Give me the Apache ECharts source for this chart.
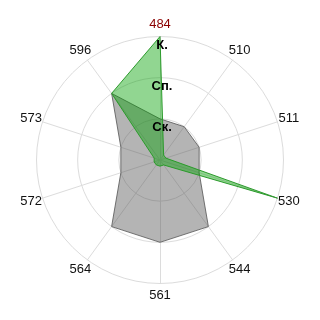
<!DOCTYPE html>
<html>
<head>
<meta charset="utf-8">
<script src="https://cdn.jsdelivr.net/npm/echarts@6/dist/echarts.min.js"></script>
<style>
html,body{margin:0;padding:0;background:#fff;}
#chart{width:320px;height:320px;}
</style>
</head>
<body>
<div id="chart"></div>
<script>
// Categories in clockwise order starting from the top
const categories = ['484','510','511','530','544','561','564','572','573','596'];
const categoryColors = ['#8b0000','#111','#111','#111','#111','#111','#111','#111','#111','#111'];
// Series values (scale 0..3)
const grayValues  = [1, 1, 1, 1, 2, 2, 2, 1, 1, 2];
const greenValues = [3, 0.15, 0.15, 3, 0.15, 0.15, 0.15, 0.15, 0.15, 2];
// Tick labels on the first axis for values 0..3
const tickLabels = ['', 'Ск.', 'Сп.', 'К.'];
const maxValue = 3;

// ECharts radar runs counter-clockwise; reorder so it reads clockwise
function toCCW(arr){ return [arr[0]].concat(arr.slice(1).reverse()); }

const cats = toCCW(categories);
const cols = toCCW(categoryColors);
const font = "'Liberation Sans', Arial, sans-serif";

const indicatorMain = cats.map((c,i)=>({name:c, min:0, max:maxValue, color:cols[i]}));
const indicatorLabels = cats.map((c,i)=>{
  const o = {name:'', min:0, max:maxValue};
  if (i === 0) {
    o.axisLabel = {
      show:true,
      formatter:(v)=>tickLabels[Math.round(v)] || '',
      color:'#000', fontSize:13, fontWeight:'bold', fontFamily:font,
      align:'center', verticalAlign:'top', margin:0, padding:[2,0,0,4]
    };
  } else {
    o.axisLabel = {show:false};
  }
  return o;
});

const chart = echarts.init(document.getElementById('chart'), null, {renderer:'canvas'});
chart.setOption({
  animation:false,
  backgroundColor:'#fff',
  radar:[
    {
      z:0,
      center:['50%','50%'],
      radius:123.5,
      shape:'circle',
      startAngle:90,
      splitNumber:3,
      indicator:indicatorMain,
      nameGap:12,
      axisName:{color:'#111', fontSize:13, fontFamily:font, align:'center', verticalAlign:'middle'},
      splitLine:{lineStyle:{color:'#dcdcdc', width:1}},
      splitArea:{show:false},
      axisLine:{lineStyle:{color:'#dcdcdc', width:1}},
      axisTick:{show:false},
      axisLabel:{show:false}
    },
    {
      z:10,
      center:['50%','50%'],
      radius:123.5,
      shape:'circle',
      startAngle:90,
      splitNumber:3,
      indicator:indicatorLabels,
      axisName:{show:false},
      splitLine:{show:false},
      splitArea:{show:false},
      axisLine:{show:false},
      axisTick:{show:false}
    }
  ],
  series:[{
    type:'radar',
    radarIndex:0,
    symbol:'none',
    data:[
      {value:toCCW(grayValues), lineStyle:{color:'#787878', width:1}, areaStyle:{color:'rgba(80,80,80,0.43)', opacity:1}},
      {value:toCCW(greenValues), lineStyle:{color:'#3a9a3a', width:1}, areaStyle:{color:'rgba(0,160,0,0.43)', opacity:1}}
    ]
  }]
});
</script>
</body>
</html>
